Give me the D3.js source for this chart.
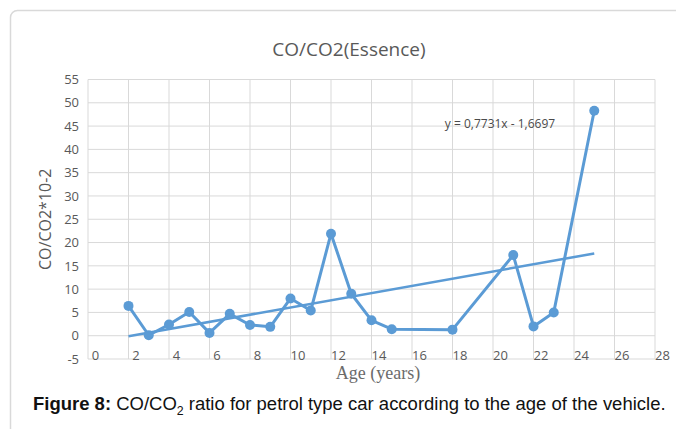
<!DOCTYPE html>
<html>
<head>
<meta charset="utf-8">
<script src="https://cdn.jsdelivr.net/npm/d3@7"></script>
<style>
    html, body { margin: 0; padding: 0; background: #fff; }
    svg { display: block; }
</style>
</head>
<body>
<svg id="chart" width="676" height="429"></svg>
<script>
// chart values
const ages = [2, 3, 4, 5, 6, 7, 8, 9, 10, 11, 12, 13, 14, 15, 18, 21, 22, 23, 25]
const ratios = [6.4, 0.1, 2.4, 5.1, 0.6, 4.7, 2.3, 1.9, 8.0, 5.4, 21.9, 9.0, 3.3, 1.4, 1.3, 17.3, 2.0, 5.0, 48.3]
const trendSlope = [0.7731]
const trendIntercept = [-1.6697]
const xTicks = [0, 2, 4, 6, 8, 10, 12, 14, 16, 18, 20, 22, 24, 26, 28]
const yTicks = [-5, 0, 5, 10, 15, 20, 25, 30, 35, 40, 45, 50, 55]

const titleText = 'CO/CO2(Essence)'
const xTitle = 'Age (years)'
const yTitle = 'CO/CO2*10-2'
const equationText = 'y = 0,7731x - 1,6697'

const blue = '#5b9bd5'
const grid = '#d9d9d9'
const labelGrey = '#595959'

const margin = { left: 88, right: 21, top: 79.5, bottom: 70 }
const svg = d3.select('#chart')
const width = +svg.attr('width')
const height = +svg.attr('height')

/**
 * Adds SVG Attribute to d3Selection
 * @param {*} d3Selection - (required) D3 selection
 * @param {string} type - (required) Attribute type
 * @param {*} value - (required) Attribute value
 */
const addSVGAttribute = (d3Selection, type, value) => {
    d3Selection.attr(type, value)
}

/**
 * Appends a text node with the usual font attributes
 */
const appendText = (d3Selection, { x, y, text, size, family, fill = labelGrey, anchor = 'middle', weight = 'normal' }) => {
    const t = d3Selection.append('text')
    addSVGAttribute(t, 'x', x)
    addSVGAttribute(t, 'y', y)
    addSVGAttribute(t, 'font-size', size)
    addSVGAttribute(t, 'font-family', family)
    addSVGAttribute(t, 'fill', fill)
    addSVGAttribute(t, 'text-anchor', anchor)
    addSVGAttribute(t, 'font-weight', weight)
    t.text(text)
    return t
}

// outer chart frame, runs off the right and bottom edges like the scan
svg.append('rect')
    .attr('x', 10.5).attr('y', 10.5)
    .attr('width', width + 20).attr('height', height + 20)
    .attr('rx', 7)
    .attr('fill', '#fff')
    .attr('stroke', grid)
    .attr('stroke-width', 1.5)

const x = d3.scaleLinear()
    .domain([0, 28])
    .range([margin.left, width - margin.right])
const y = d3.scaleLinear()
    .domain([-5, 55])
    .range([height - margin.bottom, margin.top])

// gridlines
const gridG = svg.append('g')
gridG.selectAll('line.v').data(xTicks).join('line')
    .attr('class', 'v')
    .attr('x1', d => x(d)).attr('x2', d => x(d))
    .attr('y1', y(55)).attr('y2', y(-5))
    .attr('stroke', grid).attr('stroke-width', 1)
gridG.selectAll('line.h').data(yTicks).join('line')
    .attr('class', 'h')
    .attr('x1', x(0)).attr('x2', x(28))
    .attr('y1', d => y(d)).attr('y2', d => y(d))
    .attr('stroke', grid).attr('stroke-width', 1)

// axes (only labels, lines are the gridlines)
const xAxis = svg.append('g')
    .attr('transform', `translate(7, ${y(-5)})`)
    .call(d3.axisBottom(x).tickValues(xTicks).tickSize(0).tickPadding(0).tickFormat(String))
xAxis.select('.domain').remove()
xAxis.selectAll('text')
    .attr('dy', 0)
    .attr('y', 1)
    .attr('font-size', 13)
    .attr('font-family', 'Open Sans')
    .attr('fill', labelGrey)

const yAxis = svg.append('g')
    .attr('transform', `translate(${x(0) - 9}, 0)`)
    .call(d3.axisLeft(y).tickValues(yTicks).tickSize(0).tickPadding(0).tickFormat(String))
yAxis.select('.domain').remove()
yAxis.selectAll('text')
    .attr('font-size', 13)
    .attr('font-family', 'Open Sans')
    .attr('fill', labelGrey)

// linear trendline from the equation printed on the chart
const ageExtent = d3.extent(ages)
const trend = ageExtent.map(a => ({ age: a, value: trendSlope[0] * a + trendIntercept[0] }))
svg.append('path')
    .datum(trend)
    .attr('d', d3.line().x(d => x(d.age)).y(d => y(d.value)))
    .attr('fill', 'none')
    .attr('stroke', blue)
    .attr('stroke-width', 2.5)

// series
const points = ages.map((a, i) => ({ age: a, value: ratios[i] }))
svg.append('path')
    .datum(points)
    .attr('d', d3.line().x(d => x(d.age)).y(d => y(d.value)))
    .attr('fill', 'none')
    .attr('stroke', blue)
    .attr('stroke-width', 3)
    .attr('stroke-linejoin', 'round')
svg.append('g').selectAll('circle').data(points).join('circle')
    .attr('cx', d => x(d.age))
    .attr('cy', d => y(d.value))
    .attr('r', 5)
    .attr('fill', blue)

// texts
appendText(svg, { x: 349, y: 56, text: titleText, size: 19, family: 'Open Sans' })
appendText(svg, { x: 500, y: 128, text: equationText, size: 12, family: 'Open Sans', fill: '#4a4a4a' })
appendText(svg, { x: 378, y: 379, text: xTitle, size: 18, family: 'Liberation Serif', fill: '#6b6b6b' })
appendText(svg, { x: 0, y: 0, text: yTitle, size: 16, family: 'Open Sans' })
    .attr('transform', `translate(51, ${y(25)}) rotate(-90)`)

// caption with subscript 2
const caption = svg.append('text')
    .attr('x', 33).attr('y', 410)
    .attr('font-family', 'Liberation Sans')
    .attr('font-size', 18)
    .attr('fill', '#111')
caption.append('tspan').attr('font-weight', 'bold').text('Figure 8:')
caption.append('tspan').text(' CO/CO')
caption.append('tspan').attr('font-size', 12).attr('dy', 5).text('2')
caption.append('tspan').attr('dy', -5).text(' ratio for petrol type car according to the age of the vehicle.')
// squeeze the caption to the width it has in the figure
const capW = caption.node().getComputedTextLength()
const targetW = 633
caption.attr('font-size', 18 * targetW / capW)
caption.selectAll('tspan').filter((d, i) => i === 2).attr('font-size', 12 * targetW / capW)
</script>
</body>
</html>
